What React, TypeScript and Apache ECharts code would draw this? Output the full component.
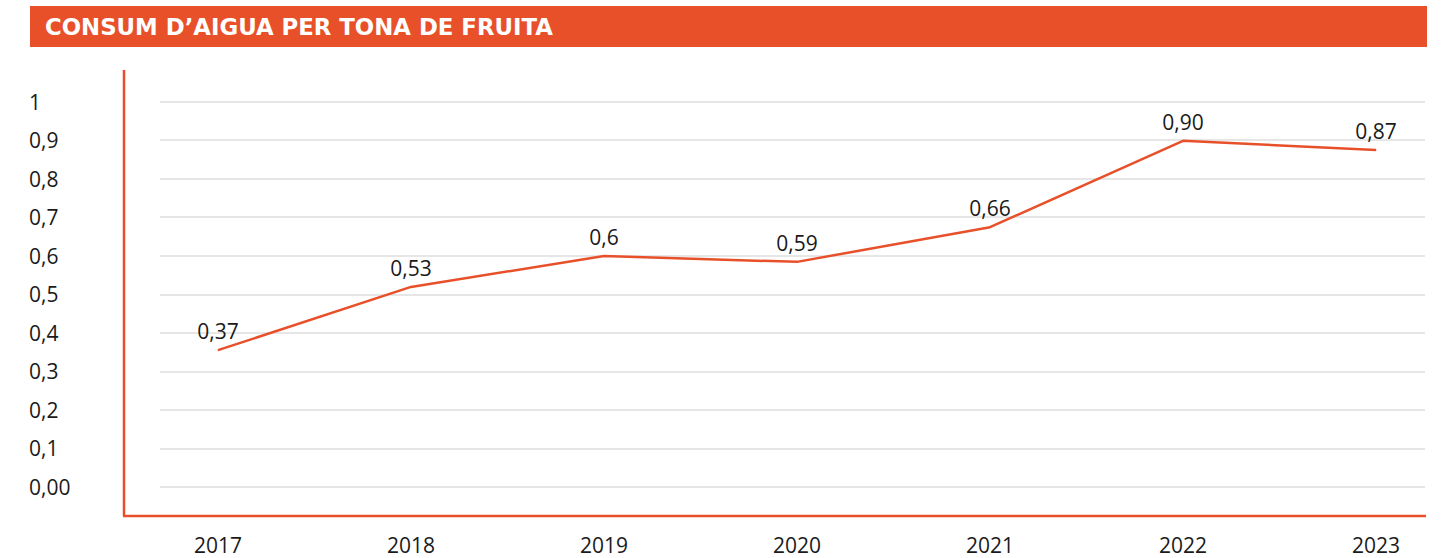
import React, { useEffect, useRef } from "react";
import * as echarts from "echarts";

const TITLE = "CONSUM D\u2019AIGUA PER TONA DE FRUITA";
const years = [2017, 2018, 2019, 2020, 2021, 2022, 2023];
const values = [0.355, 0.519, 0.599, 0.584, 0.674, 0.898, 0.874];
const valueLabels = ["0,37", "0,53", "0,6", "0,59", "0,66", "0,90", "0,87"];
const yTicks = [0, 0.1, 0.2, 0.3, 0.4, 0.5, 0.6, 0.7, 0.8, 0.9, 1];

const ORANGE = "#E8502A";
const FONT = "'Open Sans', sans-serif";

export default function App() {
  const ref = useRef<HTMLDivElement>(null);
  useEffect(() => {
    document.body.style.margin = "0";
    if (!ref.current) return;
    const chart = echarts.init(ref.current, null, { renderer: "svg" });
    const fmtY = (v: number) => {
      if (v === 0) return "0,00";
      if (v === 1) return "1";
      return v.toFixed(1).replace(".", ",");
    };
    chart.setOption({
      animation: false,
      backgroundColor: "#ffffff",
      textStyle: { fontFamily: FONT },
      grid: { left: 160, right: 22, top: 101.5, bottom: 71, containLabel: false },
      xAxis: {
        type: "value",
        min: 2016.6995,
        max: 2023.2539,
        axisLine: { show: false },
        axisTick: { show: false },
        splitLine: { show: false },
        axisLabel: {
          customValues: years,
          formatter: (v: number) => String(Math.round(v)),
          color: "#1a1a1a",
          fontSize: 21,
          fontFamily: FONT,
          margin: 47,
        },
      },
      yAxis: {
        type: "value",
        min: 0,
        max: 1,
        interval: 0.1,
        axisLine: { show: false },
        axisTick: { show: false },
        splitLine: { show: true, lineStyle: { color: "#e6e6e6", width: 2 } },
        axisLabel: {
          customValues: yTicks,
          formatter: fmtY,
          color: "#1a1a1a",
          fontSize: 21,
          fontFamily: FONT,
          align: "left",
          margin: 131,
        },
      },
      series: [
        {
          type: "line",
          data: years.map((y, i) => [y, values[i]]),
          symbol: "circle",
          symbolSize: 1,
          showSymbol: true,
          itemStyle: { color: ORANGE },
          lineStyle: { color: ORANGE, width: 2.5 },
          label: {
            show: true,
            position: "top",
            distance: 8,
            formatter: (p: any) => valueLabels[p.dataIndex],
            color: "#1a1a1a",
            fontSize: 21,
            fontFamily: FONT,
          },
          labelLayout: { hideOverlap: false },
        },
      ],
      graphic: [
        {
          type: "rect",
          shape: { x: 30, y: 6, width: 1397, height: 41 },
          style: { fill: ORANGE },
          silent: true,
        },
        {
          type: "text",
          x: 45,
          y: 27,
          style: {
            text: TITLE,
            fill: "#ffffff",
            font: `bold 22.8px 'DejaVu Sans', sans-serif`,
            verticalAlign: "middle",
            align: "left",
          },
          silent: true,
        },
        {
          type: "line",
          shape: { x1: 124, y1: 70, x2: 124, y2: 516 },
          style: { stroke: ORANGE, lineWidth: 2.5 },
          silent: true,
        },
        {
          type: "line",
          shape: { x1: 123, y1: 516, x2: 1426, y2: 516 },
          style: { stroke: ORANGE, lineWidth: 2.5 },
          silent: true,
        },
      ],
    });
    return () => chart.dispose();
  }, []);
  return <div ref={ref} style={{ width: 1447, height: 558 }} />;
}
